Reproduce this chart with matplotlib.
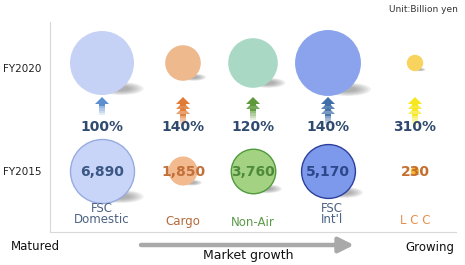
import numpy as np
import matplotlib
matplotlib.use("Agg")
import matplotlib.pyplot as plt
from matplotlib.patches import Ellipse, Polygon

# ---- data ----
categories = ["FSC\nDomestic", "Cargo", "Non-Air", "FSC\nInt'l", "L C C"]
value_labels_2015 = ["6,890", "1,850", "3,760", "5,170", "230"]
values_2015 = [6890, 1850, 3760, 5170, 230]
growth_pct = [100, 140, 120, 140, 310]
growth_labels = ["100%", "140%", "120%", "140%", "310%"]
row_labels = ["FY2020", "FY2015"]

# ---- layout / style ----
W, H = 465, 265
x_pos = [102, 183, 253, 328, 415]
y2020, y2015 = 63, 171
r_max = 32.0
size_exp = 0.6
fill_2020 = ["#c6d1f6", "#eeb98c", "#a9d9c5", "#8aa3ec", "#f8d35e"]
fill_2015 = ["#c8d5f8", "#f2ba8e", "#a3d283", "#7d99ec", "#f5b52e"]
edge_2015 = ["#98abe0", "none", "#4f9a3b", "#2d3f9c", "none"]
val_colors = ["#3b5785", "#c2703a", "#4d8a3a", "#2c478a", "#c46f2e"]
cat_colors = ["#4c6282", "#b46a3c", "#5c9a4a", "#4c6282", "#e4904c"]
arrow_colors = ["#5b8fd0", "#e07a35", "#5e9a3c", "#3f6ea8", "#f6e81c"]
n_chevrons = [1, 3, 2, 3, 3]

fig = plt.figure(figsize=(W / 100, H / 100), dpi=100)
ax = fig.add_axes([0, 0, 1, 1])
ax.set_xlim(0, W)
ax.set_ylim(H, 0)
ax.axis("off")

px2pt = 72 / 100


def radius(v):
    return r_max * (v / values_2015[0]) ** size_exp


def shadow(x, y, r):
    for k in range(6):
        f = 1 - k * 0.12
        ax.add_patch(Ellipse((x + 0.6 * r, y + 0.8 * r), 1.4 * r * f, 0.4 * r * f,
                             color="#606060", alpha=0.1, lw=0, zorder=1))


values_2020 = [v * g / 100 for v, g in zip(values_2015, growth_pct)]

for i, x in enumerate(x_pos):
    r20 = radius(values_2020[i])
    r15 = radius(values_2015[i])
    shadow(x, y2020, r20)
    shadow(x, y2015, r15)
    ax.scatter([x], [y2020], s=(2 * r20 * px2pt) ** 2, color=fill_2020[i],
               edgecolors="none", zorder=3)
    ax.scatter([x], [y2015], s=(2 * r15 * px2pt) ** 2, color=fill_2015[i],
               edgecolors=edge_2015[i], linewidths=1.0, zorder=3)
    ax.text(x, y2015 + 1, value_labels_2015[i], ha="center", va="center",
            fontsize=10, fontweight="bold", color=val_colors[i], zorder=5)
    ax.text(x, 127, growth_labels[i], ha="center", va="center",
            fontsize=10, fontweight="bold", color="#2f4a6e", zorder=5)
    # growth arrows (stacked chevrons)
    n = n_chevrons[i]
    top = 97
    hw = 7
    step = 5
    for k in range(n):
        yt = top + k * step
        ax.add_patch(Polygon([(x, yt), (x + hw, yt + 7), (x + 3, yt + 7),
                              (x + 3, yt + 9), (x - 3, yt + 9), (x - 3, yt + 7),
                              (x - hw, yt + 7)], closed=True,
                             color=arrow_colors[i], lw=0, zorder=4,
                             alpha=1 - 0.15 * k))
    ys = top + (n - 1) * step + 7
    for k in range(5):
        ax.add_patch(Polygon([(x - 3, ys + k * 2.2), (x + 3, ys + k * 2.2),
                              (x + 3, ys + (k + 1) * 2.2), (x - 3, ys + (k + 1) * 2.2)],
                             closed=True, color=arrow_colors[i], lw=0, zorder=4,
                             alpha=0.8 - 0.16 * k))

# category labels
cat_y = [214, 222, 223, 214, 220]
for i, x in enumerate(x_pos):
    ax.text(x + (4 if i == 3 else 0), cat_y[i], categories[i], ha="center", va="center",
            fontsize=8.5, color=cat_colors[i], linespacing=0.85)

# row labels
ax.text(22, 69, row_labels[0], ha="center", va="center", fontsize=7.5, color="#222222")
ax.text(22, 172, row_labels[1], ha="center", va="center", fontsize=7.5, color="#222222")

# frame lines
ax.plot([50, 50], [22, 232], color="#d8d8d8", lw=0.8, zorder=0)
ax.plot([50, 456], [232, 232], color="#d8d8d8", lw=0.8, zorder=0)

# unit
ax.text(458, 9, "Unit:Billion yen", ha="right", va="center", fontsize=6.5, color="#333333")

# bottom axis labels
ax.text(35, 247, "Matured", ha="center", va="center", fontsize=8.5, color="#111111")
ax.text(430, 247, "Growing", ha="center", va="center", fontsize=8.5, color="#111111")
ax.text(248, 256, "Market growth", ha="center", va="center", fontsize=9, color="#111111")
ax.annotate("", xy=(354, 245), xytext=(141, 245),
            arrowprops=dict(arrowstyle="-|>,head_length=0.9,head_width=0.45",
                            color="#a9a9a9", lw=3.2, shrinkA=0, shrinkB=0))

fig.savefig("out.png", dpi=100)
